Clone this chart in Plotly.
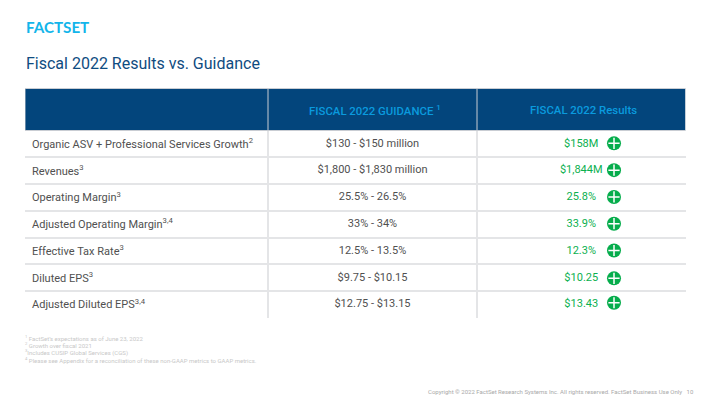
import plotly.graph_objects as go

W, H = 720, 405
metrics = ["Organic ASV + Professional Services Growth<sup>2</sup>", "Revenues<sup>3</sup>", "Operating Margin<sup>3</sup>",
           "Adjusted Operating Margin<sup>3,4</sup>", "Effective Tax Rate<sup>3</sup>", "Diluted EPS<sup>3</sup>",
           "Adjusted Diluted EPS<sup>3,4</sup>"]
guidance = ["$130 - $150 million", "$1,800 - $1,830 million", "25.5% - 26.5%", "33% - 34%",
            "12.5% - 13.5%", "$9.75 - $10.15", "$12.75 - $13.15"]
results = ["$158M", "$1,844M", "25.8%", "33.9%", "12.3%", "$10.25", "$13.43"]
headers = ["FISCAL 2022 GUIDANCE <sup>1</sup>", "FISCAL 2022 Results"]
footnotes = ["<sup>1</sup> FactSet’s expectations as of June 23, 2022", "<sup>2</sup> Growth over fiscal 2021",
             "<sup>3</sup>Includes CUSIP Global Services (CGS)",
             "<sup>4</sup> Please see Appendix for a reconciliation of these non-GAAP metrics to GAAP metrics."]

NAVY = "#03457c"
BLUE = "#0a9ade"
GREEN = "#0cb04f"
GRID = "#e4e5e7"
TEXT = "#505050"
FONT = "Roboto"
L, C1, C2, R = 25, 268, 477, 685.5
T, HB, B = 88.5, 130.5, 318
rows = list(range(len(results)))
edges_y = [i - 0.5 for i in rows] + [len(rows) - 0.5]
metric_y = [r + 0.04 for r in rows]


def font(color, size=11, **kw):
    return dict(family=FONT, size=size, color=color, **kw)


fig = go.Figure()
fig.add_trace(go.Scatter(x=[L + 7] * len(rows), y=metric_y, mode="text", text=metrics, textposition="middle right",
                         textfont=font(TEXT), hoverinfo="skip", cliponaxis=False))
fig.add_trace(go.Scatter(x=[(C1 + C2) / 2] * len(rows), y=rows, mode="text", text=guidance, textposition="middle center",
                         textfont=font(TEXT), hoverinfo="skip"))
fig.add_trace(go.Scatter(x=[(C2 + R) / 2] * len(rows), y=rows, mode="text", text=results, textposition="middle center",
                         textfont=font(GREEN), hoverinfo="skip"))
icon_x = [614] * len(rows)
icon_ys = [r + d for r, d in zip(rows, [-0.02, -0.02, -0.02, -0.02, -0.02, 0.02, -0.07])]
fig.add_trace(go.Scatter(x=icon_x, y=icon_ys, mode="markers", hoverinfo="skip",
                         marker=dict(symbol="circle", size=14, color="#06ad4c")))
fig.add_trace(go.Scatter(x=icon_x, y=icon_ys, mode="markers", hoverinfo="skip",
                         marker=dict(symbol="cross-thin", size=8, color="white",
                                     line=dict(color="white", width=1.5))))

shapes = [
    dict(type="rect", xref="x", yref="paper", x0=L, x1=R, y0=(H - HB) / H, y1=(H - T) / H,
         fillcolor=NAVY, line=dict(color="#c9cdd3", width=1), layer="below"),
]
for cx in (C1, C2):
    shapes.append(dict(type="line", xref="x", yref="paper", x0=cx, x1=cx, y0=(H - HB) / H, y1=(H - T) / H,
                       line=dict(color="#c9cdd3", width=1), layer="above"))

notes = [
    dict(text="FACTSET", x=24 / W, y=1 - 27 / H, font=dict(family="Lato", size=15.2, color="#13b5ea", weight=700)),
    dict(text="Fiscal 2022 Results vs. Guidance", x=24 / W, y=1 - 64 / H, font=font("#0f4c81", 16)),
]
for i, t in enumerate(footnotes):
    notes.append(dict(text=t, x=23 / W, y=1 - (338 + 7.2 * i) / H, font=font("#c8c8c8", 6)))
notes.append(dict(text="Copyright © 2022 FactSet Research Systems Inc. All rights reserved. FactSet Business Use Only   10",
                  x=696 / W, y=1 - 391 / H, xanchor="right", font=font("#a9a9a9", 6)))
notes.append(dict(text=headers[0], x=((C1 + C2) / 2 + 2) / W, y=1 - 110 / H, xanchor="center", font=font(BLUE, 11.4, weight=500)))
notes.append(dict(text=headers[1], x=((C2 + R) / 2 + 2) / W, y=1 - 110 / H, xanchor="center", font=font(BLUE, 11.4, weight=500)))
annotations = [dict(xref="paper", yref="paper", showarrow=False, xanchor=n.get("xanchor", "left"), yanchor="middle",
                    align="left", **{k: v for k, v in n.items() if k != "xanchor"}) for n in notes]

fig.update_layout(
    width=W, height=H, margin=dict(l=0, r=0, t=0, b=0), showlegend=False,
    paper_bgcolor="white", plot_bgcolor="rgba(0,0,0,0)", annotations=annotations, shapes=shapes,
    xaxis=dict(domain=[L / W, R / W], range=[L, R], showticklabels=False, ticks="", zeroline=False, fixedrange=True,
               tickmode="array", tickvals=[L, C1, C2, R], showgrid=True, gridcolor=GRID, gridwidth=1.5),
    yaxis=dict(domain=[1 - B / H, 1 - HB / H], range=[edges_y[-1], edges_y[0]], showticklabels=False, ticks="",
               zeroline=False, fixedrange=True, tickmode="array", tickvals=edges_y, showgrid=True,
               gridcolor=GRID, gridwidth=1.5),
)
fig.write_html("out.html", post_script="document.body.style.margin='0';", config={"displayModeBar": False})
